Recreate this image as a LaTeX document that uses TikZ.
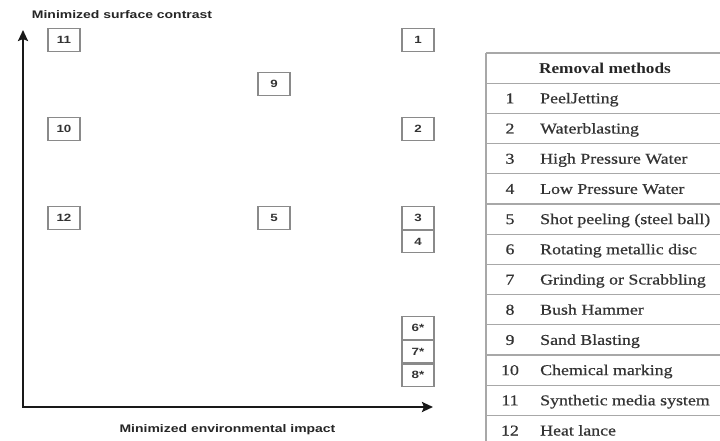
\documentclass[tikz,border=0pt]{standalone}
\usepackage{fontspec}
\usetikzlibrary{arrows.meta}
\newfontfamily\axisfont[FakeStretch=1.27]{Liberation Sans}
\newfontfamily\tabfont[FakeStretch=1.19,FakeBold=0.6]{Liberation Serif}
\newfontfamily\tabheadfont[FakeStretch=1.15]{Liberation Serif}
\definecolor{boxgray}{HTML}{8A8A8A}
\definecolor{txtgray}{HTML}{333333}
\definecolor{linegray}{HTML}{A8A8A8}
\begin{document}
\begin{tikzpicture}[x=1pt,y=-1pt,
  numbox/.style={draw=boxgray, line width=1.1pt, minimum width=32pt, minimum height=22.5pt, inner sep=0pt, font=\axisfont\bfseries\fontsize{10.5}{11}\selectfont, text=txtgray},
  axislabel/.style={font=\axisfont\bfseries\fontsize{11}{12}\selectfont, text=black!85, inner sep=0pt},
  axisline/.style={line width=2.4pt, black!90, {Stealth[length=11pt,width=10pt,inset=2pt]}-{Stealth[length=11pt,width=10pt,inset=2pt]}},
  tabtext/.style={font=\tabfont\fontsize{15}{16}\selectfont, text=txtgray, inner sep=0pt},
  tabline/.style={draw=linegray, line width=1.3pt}]
\useasboundingbox[fill=white] (0,0) rectangle (720,441);
% axes
\coordinate (O) at (23,407);
\coordinate (Y) at (23,30);
\coordinate (X) at (433,407);
\draw[axisline] (Y) -- (O) -- (X);
\node[axislabel, anchor=base] (ylab) at (122,19) {Minimized surface contrast};
\node[axislabel, anchor=base] (xlab) at (227.5,432) {Minimized environmental impact};
% boxes
\node[numbox] (b11) at (64,40) {11};
\node[numbox] (b10) at (64,129) {10};
\node[numbox] (b12) at (64,218) {12};
\node[numbox] (b9) at (274,84) {9};
\node[numbox] (b5) at (274,218) {5};
\node[numbox] (b1) at (418,40) {1};
\node[numbox] (b2) at (418,129) {2};
\node[numbox] (b3) at (418,218) {3};
\node[numbox, anchor=north] (b4) at (b3.south) {4};
\node[numbox] (b6) at (418,328) {6*};
\node[numbox, anchor=north] (b7) at (b6.south) {7*};
\node[numbox, anchor=north] (b8) at (b7.south) {8*};
% table
\foreach \k in {0,...,12} \draw[tabline] (486,{53+30.2*\k}) -- (722,{53+30.2*\k});
\draw[tabline] (486,53) -- (486,442);
\node[tabtext, font=\tabheadfont\bfseries\fontsize{15}{16}\selectfont, anchor=base, text=black!85] (thead) at (605,{53+30.2*0.5+5}) {Removal methods};
\foreach \t [count=\k] in {PeelJetting, Waterblasting, High Pressure Water, Low Pressure Water, Shot peeling (steel ball), Rotating metallic disc, Grinding or Scrabbling, Bush Hammer, Sand Blasting, Chemical marking, Synthetic media system, Heat lance}{
  \node[tabtext, anchor=base] (n\k) at (510,{53+30.2*(\k+0.5)+5}) {\k};
  \node[tabtext, anchor=base west] (r\k) at (540,{53+30.2*(\k+0.5)+5}) {\t};
}
\end{tikzpicture}
\end{document}
